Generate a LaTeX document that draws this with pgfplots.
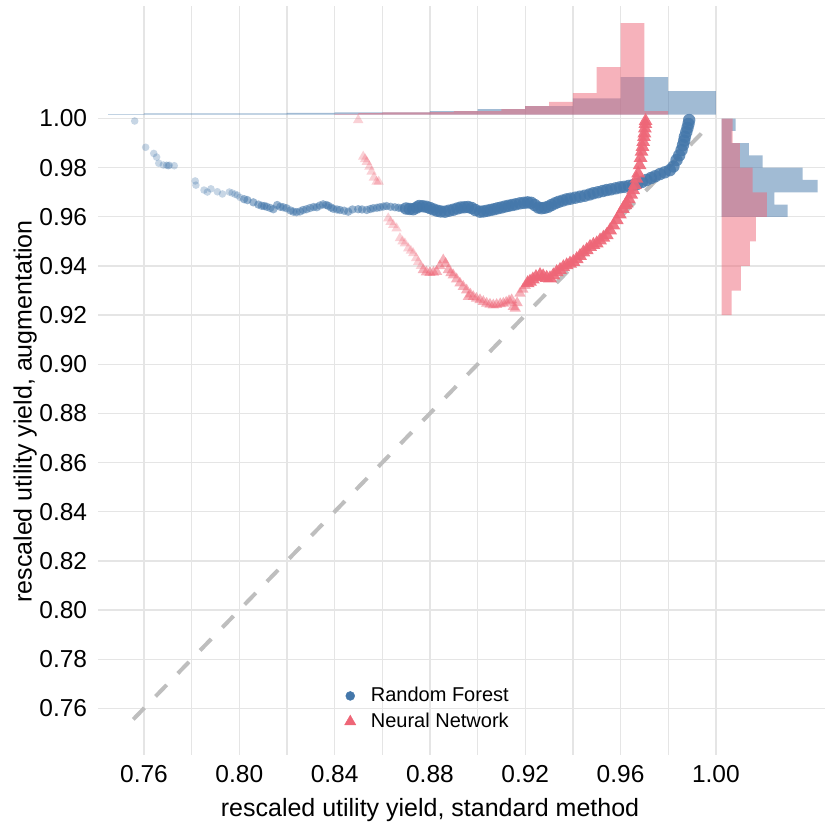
\documentclass[border=0pt]{standalone}
\usepackage{fontspec}
\setmainfont{Liberation Sans}
\usepackage{pgfplots}
\pgfplotsset{compat=1.18}
\definecolor{rfblue}{HTML}{4477AA}
\definecolor{nnred}{HTML}{EE6677}
\definecolor{gridgray}{HTML}{E5E5E5}
\definecolor{diaggray}{HTML}{BEBEBE}

\begin{document}
\begin{tikzpicture}
\path[use as bounding box] (-98pt,-73pt) rectangle (727pt,755pt);
\begin{axis}[
    at={(0pt,0pt)}, anchor=south west,
    scale only axis, width=727pt, height=749pt,
    xmin=0.7407, xmax=1.0458, ymin=0.7410, ymax=1.0458,
    axis line style={draw=none},
    major tick length=0pt, minor tick length=0pt,
    xtick={0.76,0.80,0.84,0.88,0.92,0.96,1.00},
    minor xtick={0.78,0.82,0.86,0.90,0.94,0.98},
    ytick={0.76,0.78,0.80,0.82,0.84,0.86,0.88,0.90,0.92,0.94,0.96,0.98,1.00},
    grid=both,
    major grid style={gridgray, line width=1.3pt},
    minor grid style={gridgray, line width=1.3pt},
    tick label style={font=\fontsize{24.5}{28}\selectfont, inner sep=0pt,
        /pgf/number format/fixed, /pgf/number format/fixed zerofill,
        /pgf/number format/precision=2, /pgf/number format/assume math mode=true},
    xticklabel style={anchor=north, yshift=-10pt},
    yticklabel style={anchor=east, xshift=-10.7pt},
    scaled ticks=false,
    xlabel={rescaled utility yield, standard method},
    ylabel={rescaled utility yield, augmentation},
    xlabel style={at={(axis description cs:0.4567,-0.0824)}, anchor=base, inner sep=0pt, font=\fontsize{25}{29}\selectfont},
    ylabel style={at={(axis description cs:-0.0912,0.4586)}, anchor=base, inner sep=0pt, font=\fontsize{25}{29}\selectfont},
    legend image code/.code={\draw[#1] plot coordinates {(0pt,0pt)};},
    legend style={at={(axis cs:0.8442,0.7689)}, anchor=north west, draw=none, fill=none,
        inner sep=0pt, outer sep=0pt, font=\fontsize{20}{24}\selectfont,
        nodes={inner sep=0pt, text height=15pt, text depth=4pt},
        column sep=15pt, row sep=6.7pt},
    legend cell align=left,
]

% random forest, sparse start
\addplot[forget plot, only marks, mark=*, mark size=3.8pt,
    mark options={fill=rfblue, draw opacity=0, fill opacity=0.3}] coordinates {
(0.7561,0.9990) (0.7607,0.9883) (0.7641,0.9858) (0.7653,0.9843) (0.7662,0.9818)
(0.7681,0.9811) (0.7695,0.9810) (0.7702,0.9808) (0.7706,0.9810) (0.7727,0.9808)
(0.7815,0.9746) (0.7818,0.9729) (0.7852,0.9709) (0.7866,0.9701) (0.7881,0.9714)
(0.7908,0.9702) (0.7929,0.9693) (0.7958,0.9701) (0.7970,0.9697) (0.7982,0.9692)
(0.7992,0.9688) (0.8003,0.9679)
};
% random forest, middle
\addplot[forget plot, only marks, mark=*, mark size=4.2pt,
    mark options={fill=rfblue, draw opacity=0, fill opacity=0.55}] coordinates {
(0.8020,0.9672) (0.8034,0.9668) (0.8059,0.9659) (0.8080,0.9650) (0.8094,0.9645)
(0.8105,0.9644) (0.8115,0.9641) (0.8130,0.9636) (0.8143,0.9631) (0.8159,0.9648)
(0.8172,0.9641) (0.8184,0.9639) (0.8198,0.9635) (0.8215,0.9626) (0.8227,0.9621)
(0.8240,0.9619) (0.8255,0.9622) (0.8268,0.9628) (0.8282,0.9631) (0.8297,0.9636)
(0.8312,0.9640) (0.8325,0.9639) (0.8338,0.9646) (0.8352,0.9651) (0.8365,0.9648)
(0.8373,0.9645) (0.8385,0.9638) (0.8394,0.9633) (0.8410,0.9630) (0.8422,0.9628)
(0.8440,0.9625) (0.8457,0.9621) (0.8475,0.9630) (0.8499,0.9631) (0.8515,0.9630)
(0.8535,0.9628) (0.8550,0.9632) (0.8562,0.9635) (0.8578,0.9637) (0.8590,0.9639)
(0.8605,0.9642) (0.8618,0.9644) (0.8635,0.9641) (0.8653,0.9639) (0.8668,0.9637)
(0.8681,0.9635)
};
% random forest, dense part
\addplot[forget plot, only marks, mark=*, mark size=6.2pt,
    mark options={fill=rfblue, draw opacity=0, fill opacity=0.8}] coordinates {
(0.8700,0.9634) (0.8715,0.9632) (0.8730,0.9631) (0.8745,0.9638) (0.8755,0.9644)
(0.8770,0.9643) (0.8785,0.9641) (0.8800,0.9636) (0.8815,0.9630) (0.8830,0.9625)
(0.8845,0.9622) (0.8863,0.9621) (0.8880,0.9625) (0.8898,0.9629) (0.8915,0.9634)
(0.8930,0.9638) (0.8945,0.9639) (0.8960,0.9640) (0.8975,0.9636) (0.8990,0.9628)
(0.9010,0.9621) (0.9025,0.9622) (0.9040,0.9625) (0.9055,0.9628) (0.9070,0.9631)
(0.9085,0.9635) (0.9100,0.9638) (0.9115,0.9642) (0.9130,0.9645) (0.9145,0.9648)
(0.9160,0.9651) (0.9178,0.9655) (0.9195,0.9657) (0.9210,0.9659) (0.9225,0.9657)
(0.9240,0.9648) (0.9255,0.9638) (0.9268,0.9635) (0.9282,0.9637) (0.9296,0.9641)
(0.9310,0.9648) (0.9325,0.9655) (0.9340,0.9661) (0.9357,0.9666) (0.9374,0.9671)
(0.9390,0.9674) (0.9410,0.9678) (0.9430,0.9682) (0.9450,0.9686) (0.9470,0.9691)
(0.9486,0.9696) (0.9505,0.9700) (0.9525,0.9705) (0.9542,0.9709) (0.9560,0.9712)
(0.9580,0.9716) (0.9598,0.9720) (0.9615,0.9722) (0.9635,0.9726) (0.9653,0.9729)
(0.9670,0.9734) (0.9690,0.9742) (0.9709,0.9750) (0.9728,0.9758) (0.9745,0.9765)
(0.9765,0.9774) (0.9785,0.9781) (0.9807,0.9790) (0.9822,0.9805) (0.9835,0.9831)
(0.9846,0.9850) (0.9856,0.9872) (0.9862,0.9892) (0.9867,0.9910) (0.9870,0.9926)
(0.9876,0.9945) (0.9881,0.9962) (0.9885,0.9978) (0.9888,0.9994)
};

% neural network, sparse start
\addplot[forget plot, only marks, mark=triangle*, mark size=6pt,
    mark options={fill=nnred, draw opacity=0, fill opacity=0.3}] coordinates {
(0.8499,0.9994) (0.8520,0.9845) (0.8528,0.9835) (0.8535,0.9824) (0.8546,0.9804)
(0.8555,0.9784) (0.8565,0.9760) (0.8576,0.9743) (0.8585,0.9743) (0.8625,0.9594)
(0.8635,0.9580) (0.8646,0.9567) (0.8660,0.9553) (0.8674,0.9513) (0.8685,0.9500)
(0.8695,0.9492) (0.8709,0.9472) (0.8720,0.9462) (0.8730,0.9452) (0.8742,0.9432)
(0.8751,0.9417) (0.8762,0.9400)
};
% neural network, middle
\addplot[forget plot, only marks, mark=triangle*, mark size=6.5pt,
    mark options={fill=nnred, draw opacity=0, fill opacity=0.5}] coordinates {
(0.8772,0.9384) (0.8785,0.9375) (0.8800,0.9373) (0.8815,0.9374) (0.8828,0.9377)
(0.8842,0.9400) (0.8856,0.9424) (0.8866,0.9410) (0.8877,0.9384) (0.8888,0.9372)
(0.8898,0.9363) (0.8912,0.9347) (0.8926,0.9330) (0.8940,0.9316) (0.8954,0.9302)
(0.8961,0.9275) (0.8970,0.9285) (0.8982,0.9275) (0.8995,0.9268) (0.9010,0.9262)
(0.9024,0.9255) (0.9038,0.9248) (0.9052,0.9244) (0.9066,0.9241) (0.9080,0.9243)
(0.9095,0.9246) (0.9108,0.9248) (0.9120,0.9252) (0.9132,0.9258) (0.9143,0.9262)
(0.9150,0.9235) (0.9158,0.9228) (0.9166,0.9250) (0.9178,0.9289) (0.9190,0.9305)
(0.9200,0.9320)
};
% neural network, dense part
\addplot[forget plot, only marks, mark=triangle*, mark size=8pt,
    mark options={fill=nnred, draw opacity=0, fill opacity=0.9}] coordinates {
(0.9210,0.9330) (0.9220,0.9336) (0.9232,0.9345) (0.9245,0.9355) (0.9262,0.9363)
(0.9275,0.9358) (0.9290,0.9352) (0.9304,0.9350) (0.9318,0.9362) (0.9332,0.9375)
(0.9346,0.9384) (0.9360,0.9395) (0.9374,0.9403) (0.9388,0.9410) (0.9402,0.9417)
(0.9416,0.9428) (0.9430,0.9441) (0.9444,0.9455) (0.9458,0.9465) (0.9472,0.9478)
(0.9486,0.9486) (0.9500,0.9492) (0.9514,0.9504) (0.9528,0.9515) (0.9542,0.9526)
(0.9556,0.9545) (0.9570,0.9565) (0.9584,0.9587) (0.9597,0.9610) (0.9610,0.9632)
(0.9620,0.9648) (0.9626,0.9655) (0.9635,0.9672) (0.9645,0.9690) (0.9653,0.9709)
(0.9660,0.9730) (0.9667,0.9755) (0.9674,0.9777) (0.9680,0.9810) (0.9684,0.9840)
(0.9688,0.9865) (0.9692,0.9885) (0.9695,0.9905) (0.9698,0.9925) (0.9700,0.9940)
(0.9702,0.9960) (0.9704,0.9978) (0.9705,0.9990)
};

% diagonal
\addplot[forget plot, diaggray, line width=4pt, dash pattern=on 16pt off 16pt]
    coordinates {(0.7555,0.7555) (0.995,0.995)};

% top marginal histograms
\addplot[forget plot, fill=rfblue, fill opacity=0.5, draw=none] coordinates {
(0.745,1.0016) (0.745,1.0018) (0.76,1.0018) (0.76,1.0021) (0.82,1.0021) (0.82,1.0023)
(0.84,1.0023) (0.84,1.0025) (0.88,1.0025) (0.88,1.0030) (0.90,1.0030) (0.90,1.0038)
(0.92,1.0038) (0.92,1.0051) (0.94,1.0051) (0.94,1.0082) (0.96,1.0082) (0.96,1.0169)
(0.98,1.0169) (0.98,1.0112) (1.00,1.0112) (1.00,1.0016)
};
\addplot[forget plot, fill=nnred, fill opacity=0.5, draw=none] coordinates {
(0.84,1.0016) (0.84,1.0019) (0.85,1.0019) (0.85,1.0022) (0.86,1.0022) (0.86,1.0025)
(0.88,1.0025) (0.88,1.0026) (0.89,1.0026) (0.89,1.0030) (0.91,1.0030) (0.91,1.0038)
(0.92,1.0038) (0.92,1.0051) (0.93,1.0051) (0.93,1.0068) (0.94,1.0068) (0.94,1.0103)
(0.95,1.0103) (0.95,1.0209) (0.96,1.0209) (0.96,1.0388) (0.97,1.0388) (0.97,1.0030)
(0.98,1.0030) (0.98,1.0016)
};
% right marginal histograms
\addplot[forget plot, fill=rfblue, fill opacity=0.5, draw=none] coordinates {
(1.0024,0.960) (1.0301,0.960) (1.0301,0.965) (1.0246,0.965) (1.0246,0.970) (1.0427,0.970)
(1.0427,0.975) (1.0364,0.975) (1.0364,0.980) (1.0196,0.980) (1.0196,0.985) (1.0139,0.985)
(1.0139,0.990) (1.0066,0.990) (1.0066,0.995) (1.0083,0.995) (1.0083,1.000) (1.0024,1.000)
};
\addplot[forget plot, fill=nnred, fill opacity=0.5, draw=none] coordinates {
(1.0024,0.92) (1.0066,0.92) (1.0066,0.93) (1.0105,0.93) (1.0105,0.94) (1.0143,0.94)
(1.0143,0.95) (1.0168,0.95) (1.0168,0.96) (1.0214,0.96) (1.0214,0.97) (1.0154,0.97)
(1.0154,0.98) (1.0101,0.98) (1.0101,0.99) (1.0070,0.99) (1.0070,1.00) (1.0024,1.00)
};

\addlegendimage{only marks, mark=*, mark size=4.5pt, rfblue}
\addlegendentry{Random Forest}
\addlegendimage{only marks, mark=triangle*, mark size=6.5pt, nnred}
\addlegendentry{Neural Network}
\end{axis}
\end{tikzpicture}
\end{document}
